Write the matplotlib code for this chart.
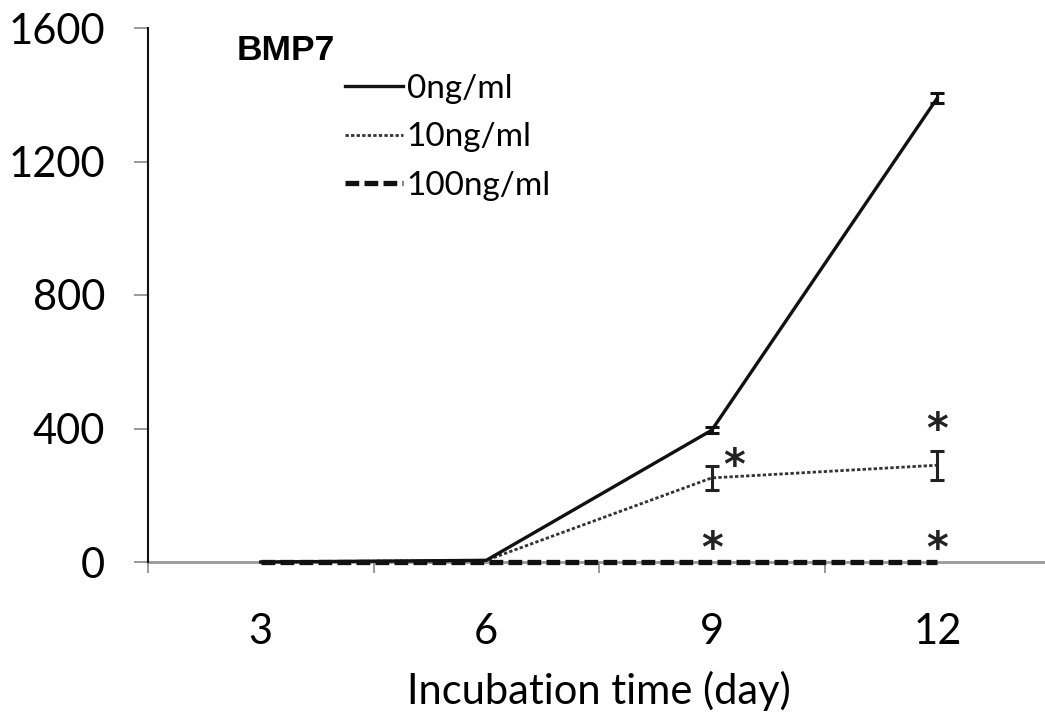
import matplotlib
matplotlib.use("Agg")
import matplotlib.pyplot as plt
import numpy as np

# data
days = [3, 6, 9, 12]
conc_0 = [0, 5, 395, 1390]
err_0 = [0, 0, 8, 15]
conc_10 = [0, 5, 252, 290]
err_10 = [0, 0, 36, 43]
conc_100 = [0, 0, 0, 0]
labels = ["0ng/ml", "10ng/ml", "100ng/ml"]
y_ticks = [0, 400, 800, 1200, 1600]

# significance markers (day, y)
star_days = [9.3, 12, 9, 12]
star_y = [285, 392, 35, 35]

plt.rcParams["font.family"] = ["Lato", "DejaVu Sans"]

fig = plt.figure(figsize=(10.45, 7.22), dpi=100)
ax = fig.add_axes([148 / 1045, 1 - 562 / 722, 902 / 1045, (562 - 28) / 722])

x = np.arange(len(days))

def to_pos(d):
    # categorical position for a day value
    return (d - days[0]) / (days[1] - days[0])

ax.plot(x, conc_100, color="#111111", lw=3.8, dashes=(2.6, 1.0),
        dash_capstyle="butt", label=labels[2], zorder=3, clip_on=False)
ax.plot(x, conc_10, color="#333333", lw=2.0, linestyle=(0, (1.2, 0.8)),
        label=labels[1], zorder=4, clip_on=False)
ax.plot(x, conc_0, color="#111111", lw=2.4, label=labels[0], zorder=5,
        clip_on=False)
ax.errorbar(x[2:], conc_10[2:], yerr=err_10[2:], fmt="none", ecolor="#222222",
            elinewidth=2.2, capsize=5, capthick=2.2, zorder=6)
ax.errorbar(x[2:], conc_0[2:], yerr=err_0[2:], fmt="none", ecolor="#111111",
            elinewidth=2.2, capsize=5, capthick=2.2, zorder=6)

for d, yv in zip(star_days, star_y):
    ax.text(to_pos(d), yv, "*", ha="center", va="center", fontsize=30,
            fontweight="bold", color="#222222", family="DejaVu Sans")

ax.set_xlim(-0.5, len(days) - 0.5)
ax.set_ylim(0, 1600)
ax.set_xticks(x)
ax.set_xticklabels([str(d) for d in days])
ax.set_xticks(np.arange(-0.5, len(days)), minor=True)
ax.set_yticks(y_ticks)
ax.tick_params(axis="x", which="major", length=0, pad=37, labelsize=30)
ax.tick_params(axis="x", which="minor", length=8, width=1.2, color="#888888")
ax.tick_params(axis="y", length=10, width=1.2, color="#888888", pad=21,
               labelsize=30)

for side in ["top", "right"]:
    ax.spines[side].set_visible(False)
ax.spines["left"].set_color("#111111")
ax.spines["left"].set_linewidth(1.5)
ax.spines["bottom"].set_color("#999999")
ax.spines["bottom"].set_linewidth(2.0)
ax.spines["bottom"].set_zorder(1)

ax.set_xlabel("Incubation time (day)", fontsize=30, labelpad=14)

fig.text(237 / 1045, 1 - 50 / 722, "BMP7", fontsize=25.5, fontweight="bold",
         family="Liberation Sans", va="center", ha="left")

handles, labs = ax.get_legend_handles_labels()
order = [2, 1, 0]
ax.legend([handles[i] for i in order], [labs[i] for i in order],
          loc="upper left", bbox_to_anchor=(345 / 1045, 1 - 74 / 722),
          bbox_transform=fig.transFigure, frameon=False, fontsize=24,
          handlelength=1.75, handletextpad=0.1, labelspacing=0.55,
          borderpad=0, borderaxespad=0)

fig.savefig("out.png", dpi=100, facecolor="white")
